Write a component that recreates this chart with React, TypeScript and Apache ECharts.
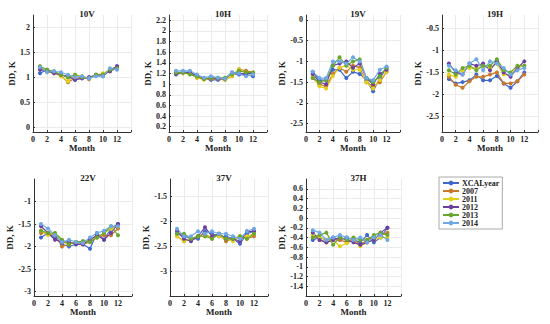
import React, { useEffect, useRef } from "react";
import * as echarts from "echarts";

const months = [1, 2, 3, 4, 5, 6, 7, 8, 9, 10, 11, 12];
const seriesNames = ["XCALyear", "2007", "2011", "2012", "2013", "2014"];
const seriesColors = ["#3f67c9", "#c8782a", "#e2cf1a", "#6b3fa0", "#68a62e", "#6fa8e6"];
const panelTitles = ["10V", "10H", "19V", "19H", "22V", "37V", "37H"];

const ch10V = [
  [1.08, 1.15, 1.10, 1.05, 1.00, 0.95, 0.98, 1.00, 1.03, 1.02, 1.15, 1.22],
  [1.18, 1.12, 1.10, 1.03, 0.90, 0.98, 1.00, 0.96, 1.05, 1.06, 1.12, 1.18],
  [1.22, 1.10, 1.08, 1.02, 0.92, 1.05, 1.02, 0.98, 1.04, 1.08, 1.15, 1.20],
  [1.15, 1.12, 1.08, 1.05, 1.02, 0.95, 0.98, 1.00, 1.05, 1.05, 1.12, 1.22],
  [1.22, 1.15, 1.12, 1.05, 1.00, 1.05, 1.00, 0.98, 1.05, 1.05, 1.15, 1.18],
  [1.20, 1.10, 1.12, 1.10, 1.05, 1.00, 1.02, 0.98, 1.02, 1.02, 1.18, 1.15],
];
const ch10H = [
  [1.18, 1.22, 1.22, 1.15, 1.10, 1.08, 1.08, 1.10, 1.20, 1.18, 1.18, 1.15],
  [1.20, 1.22, 1.20, 1.12, 1.10, 1.10, 1.10, 1.08, 1.15, 1.28, 1.25, 1.22],
  [1.22, 1.20, 1.20, 1.12, 1.08, 1.12, 1.10, 1.08, 1.15, 1.28, 1.22, 1.20],
  [1.20, 1.22, 1.22, 1.15, 1.10, 1.12, 1.10, 1.10, 1.22, 1.20, 1.20, 1.20],
  [1.22, 1.22, 1.18, 1.15, 1.10, 1.12, 1.12, 1.12, 1.18, 1.25, 1.22, 1.22],
  [1.25, 1.25, 1.25, 1.18, 1.12, 1.15, 1.12, 1.10, 1.22, 1.20, 1.15, 1.18],
];
const ch19V = [
  [-1.25, -1.45, -1.45, -1.20, -1.20, -1.40, -1.25, -1.30, -1.45, -1.72, -1.40, -1.15],
  [-1.40, -1.55, -1.60, -1.30, -1.15, -1.25, -1.10, -1.15, -1.50, -1.60, -1.50, -1.25],
  [-1.35, -1.60, -1.65, -1.35, -1.15, -1.10, -1.20, -1.20, -1.50, -1.65, -1.45, -1.25],
  [-1.30, -1.50, -1.55, -1.10, -1.05, -1.00, -1.15, -1.05, -1.40, -1.55, -1.30, -1.20],
  [-1.40, -1.50, -1.45, -1.10, -0.90, -1.10, -1.00, -0.95, -1.40, -1.50, -1.35, -1.15],
  [-1.25, -1.40, -1.40, -1.00, -1.00, -1.05, -0.90, -1.00, -1.40, -1.45, -1.20, -1.12],
];
const ch19H = [
  [-1.65, -1.75, -1.72, -1.68, -1.55, -1.68, -1.68, -1.58, -1.75, -1.85, -1.70, -1.50],
  [-1.60, -1.78, -1.85, -1.70, -1.60, -1.60, -1.55, -1.50, -1.75, -1.75, -1.70, -1.55],
  [-1.55, -1.60, -1.45, -1.40, -1.40, -1.35, -1.40, -1.30, -1.55, -1.55, -1.40, -1.35],
  [-1.30, -1.50, -1.55, -1.30, -1.35, -1.30, -1.45, -1.25, -1.50, -1.60, -1.40, -1.25],
  [-1.45, -1.55, -1.40, -1.35, -1.45, -1.35, -1.35, -1.20, -1.45, -1.50, -1.35, -1.35],
  [-1.35, -1.45, -1.55, -1.30, -1.20, -1.45, -1.25, -1.30, -1.40, -1.55, -1.45, -1.40],
];
const ch22V = [
  [-1.80, -1.70, -1.80, -1.95, -2.00, -1.95, -1.95, -2.05, -1.70, -1.85, -1.60, -1.50],
  [-1.70, -1.70, -1.75, -2.00, -1.95, -1.90, -1.95, -1.90, -1.80, -1.75, -1.75, -1.60],
  [-1.65, -1.75, -1.70, -1.90, -1.95, -1.90, -1.90, -1.85, -1.80, -1.70, -1.60, -1.55],
  [-1.55, -1.70, -1.85, -1.90, -1.90, -1.95, -1.95, -1.85, -1.75, -1.85, -1.70, -1.50],
  [-1.65, -1.70, -1.70, -1.85, -1.95, -1.90, -1.88, -1.90, -1.80, -1.70, -1.55, -1.75],
  [-1.50, -1.60, -1.75, -1.90, -1.85, -1.90, -1.92, -1.80, -1.70, -1.65, -1.55, -1.55],
];
const ch37V = [
  [-2.25, -2.30, -2.35, -2.35, -2.20, -2.25, -2.30, -2.30, -2.35, -2.45, -2.25, -2.20],
  [-2.30, -2.40, -2.35, -2.30, -2.25, -2.35, -2.25, -2.40, -2.35, -2.30, -2.35, -2.30],
  [-2.30, -2.40, -2.35, -2.30, -2.30, -2.30, -2.30, -2.35, -2.40, -2.30, -2.30, -2.25],
  [-2.20, -2.35, -2.40, -2.30, -2.12, -2.30, -2.25, -2.35, -2.35, -2.40, -2.20, -2.20],
  [-2.25, -2.25, -2.35, -2.30, -2.30, -2.35, -2.25, -2.35, -2.35, -2.30, -2.35, -2.25],
  [-2.15, -2.30, -2.30, -2.20, -2.25, -2.20, -2.25, -2.25, -2.30, -2.35, -2.20, -2.15],
];
const ch37H = [
  [-0.45, -0.40, -0.45, -0.40, -0.45, -0.40, -0.45, -0.50, -0.35, -0.50, -0.40, -0.20],
  [-0.35, -0.45, -0.50, -0.45, -0.45, -0.50, -0.45, -0.55, -0.45, -0.40, -0.35, -0.30],
  [-0.35, -0.40, -0.45, -0.45, -0.58, -0.52, -0.45, -0.58, -0.50, -0.45, -0.40, -0.40],
  [-0.30, -0.45, -0.50, -0.45, -0.40, -0.45, -0.50, -0.55, -0.50, -0.45, -0.30, -0.20],
  [-0.40, -0.35, -0.30, -0.55, -0.40, -0.45, -0.40, -0.45, -0.45, -0.35, -0.30, -0.35],
  [-0.25, -0.30, -0.45, -0.40, -0.35, -0.40, -0.45, -0.40, -0.50, -0.40, -0.35, -0.45],
];
const panelData = [ch10V, ch10H, ch19V, ch19H, ch22V, ch37V, ch37H];

const yTicks10V = [0, 0.5, 1, 1.5, 2];
const yTicks10H = [0.2, 0.4, 0.6, 0.8, 1, 1.2, 1.4, 1.6, 1.8, 2, 2.2];
const yTicks19V = [-2.5, -2, -1.5, -1, -0.5, 0];
const yTicks19H = [-2.5, -2, -1.5, -1, -0.5];
const yTicks22V = [-3, -2.5, -2, -1.5, -1];
const yTicks37V = [-3, -2.5, -2, -1.5];
const yTicks37H = [-1.4, -1.2, -1, -0.8, -0.6, -0.4, -0.2, 0, 0.2, 0.4, 0.6];
const panelYTicks = [yTicks10V, yTicks10H, yTicks19V, yTicks19H, yTicks22V, yTicks37V, yTicks37H];
const panelYRange = [
  [-0.1, 2.25],
  [0.1, 2.3],
  [-2.7, 0.12],
  [-2.85, -0.2],
  [-3.1, -0.5],
  [-3.5, -1.15],
  [-1.6, 0.8],
];

// layout (pixels)
const gridBoxes = [
  { left: 33, top: 15, width: 98, height: 117, gap: 14 },
  { left: 169, top: 15, width: 98, height: 117, gap: 15 },
  { left: 306, top: 15, width: 94, height: 117, gap: 18 },
  { left: 442, top: 15, width: 96, height: 117, gap: 17 },
  { left: 34, top: 179, width: 98, height: 117, gap: 18 },
  { left: 170, top: 179, width: 98, height: 117, gap: 19 },
  { left: 306, top: 179, width: 95, height: 117, gap: 20 },
];

const FONT = "Liberation Serif";

export default function App() {
  const ref = useRef<HTMLDivElement>(null);
  useEffect(() => {
    if (!ref.current) return;
    const chart = echarts.init(ref.current, undefined, { renderer: "svg" });
    const grids: any[] = [];
    const xAxes: any[] = [];
    const yAxes: any[] = [];
    const titles: any[] = [];
    const series: any[] = [];
    gridBoxes.forEach((g, i) => {
      grids.push({ left: g.left, top: g.top, width: g.width, height: g.height, containLabel: false, show: false });
      titles.push({
        text: panelTitles[i],
        left: g.left + g.width / 2,
        top: g.top - 11,
        textAlign: "center",
        textStyle: { fontFamily: FONT, fontWeight: "bold", fontSize: 9, color: "#222" },
      });
      xAxes.push({
        type: "value",
        gridIndex: i,
        position: "bottom",
        min: 0,
        max: 14,
        interval: 2,
        name: "Month",
        nameLocation: "middle",
        nameGap: 11,
        nameTextStyle: { fontFamily: FONT, fontWeight: "bold", fontSize: 9, color: "#222" },
        axisLine: { show: true, onZero: false, lineStyle: { color: "#333", width: 1 } },
        axisTick: { show: true, inside: true, length: 2, lineStyle: { color: "#333" } },
        axisLabel: {
          fontFamily: FONT,
          fontWeight: "bold",
          fontSize: 8,
          color: "#222",
          margin: 3,
          formatter: (v: number) => (v > 12 ? "" : String(v)),
        },
        splitLine: { show: true, lineStyle: { color: "#ebebeb", width: 1 } },
      });
      const ticks = panelYTicks[i];
      yAxes.push({
        type: "value",
        gridIndex: i,
        position: "left",
        min: panelYRange[i][0],
        max: panelYRange[i][1],
        name: "DD, K",
        nameLocation: "middle",
        nameGap: g.gap,
        nameTextStyle: { fontFamily: FONT, fontWeight: "bold", fontSize: 9, color: "#222" },
        axisLine: { show: true, onZero: false, lineStyle: { color: "#333", width: 1 } },
        axisTick: { show: true, inside: true, length: 2, customValues: ticks, lineStyle: { color: "#333" } },
        axisLabel: {
          fontFamily: FONT,
          fontWeight: "bold",
          fontSize: 8,
          color: "#222",
          margin: 3,
          customValues: ticks,
          formatter: (v: number) => String(Math.round(v * 100) / 100),
        },
        splitLine: { show: true, lineStyle: { color: "#ebebeb", width: 1 } },
      });
      panelData[i].forEach((vals, s) => {
        series.push({
          type: "line",
          name: seriesNames[s],
          xAxisIndex: i,
          yAxisIndex: i,
          data: months.map((m, k) => [m, vals[k]]),
          symbol: "circle",
          symbolSize: 4,
          showSymbol: true,
          lineStyle: { width: 1.2, color: seriesColors[s] },
          itemStyle: { color: seriesColors[s] },
          silent: true,
        });
      });
    });
    chart.setOption({
      animation: false,
      backgroundColor: "#ffffff",
      title: titles,
      grid: grids,
      xAxis: xAxes,
      yAxis: yAxes,
      series,
      legend: {
        data: seriesNames,
        orient: "vertical",
        left: 439,
        top: 177,
        padding: [2, 3, 2, 3],
        itemGap: 0,
        itemWidth: 16,
        itemHeight: 6,
        borderColor: "#aaaaaa",
        borderWidth: 1,
        textStyle: { fontFamily: FONT, fontWeight: "bold", fontSize: 8, lineHeight: 8, color: "#222", padding: [0, 0, 0, -2] },
      },
    });
    return () => chart.dispose();
  }, []);
  return (
    <div
      ref={ref}
      style={{ position: "fixed", left: 0, top: 0, width: 550, height: 324, background: "#fff" }}
    />
  );
}
